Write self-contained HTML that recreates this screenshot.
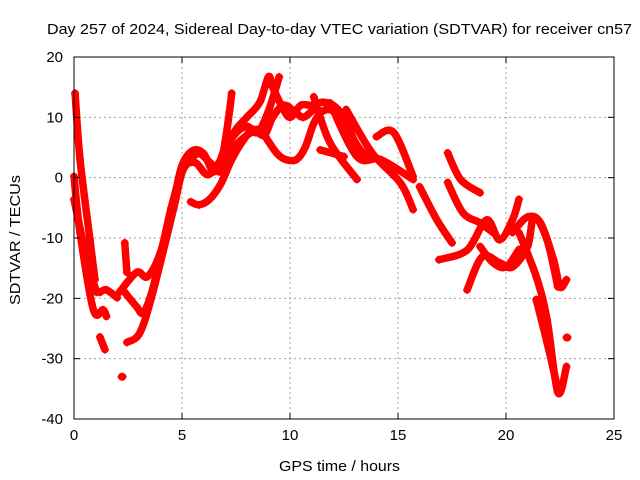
<!DOCTYPE html>
<html><head><meta charset="utf-8"><style>
body{margin:0;background:#fff}
svg{display:block;font-family:"Liberation Sans",sans-serif}
</style></head><body>
<svg width="640" height="480">
<rect width="640" height="480" fill="#fff"/>
<g id="grid"></g>
<g id="marks"></g>
<rect x="74" y="57" width="540" height="362" fill="none" stroke="#000" stroke-width="1"/>
<g id="ticks"></g>
<text x="47" y="34" font-size="15" textLength="585" lengthAdjust="spacingAndGlyphs">Day 257 of 2024, Sidereal Day-to-day VTEC variation (SDTVAR) for receiver cn57</text>
<text x="279" y="471" font-size="15" textLength="121" lengthAdjust="spacingAndGlyphs">GPS time / hours</text>
<text transform="translate(20,305) rotate(-90)" font-size="15" textLength="130" lengthAdjust="spacingAndGlyphs">SDTVAR / TECUs</text>
</svg>
<script>
const xTicks=[0,5,10,15,20,25];
const yTicks=[-40,-30,-20,-10,0,10,20];
const trackA=[[0.05,14],[0.28,3],[0.74,-10.3],[0.97,-16.9]];
const trackB=[[0,0.2],[0.28,-9.1],[0.9,-21.9],[1.35,-21.9],[1.5,-23]];
const trackC=[[0,-3.6],[0.6,-13.6],[1.05,-19]];
const trackD=[[1.2,-19],[1.5,-18.6],[2.0,-19.9]];
const trackE=[[1.2,-26.4],[1.43,-28.5]];
const trackF=[[2.2,-33],[2.25,-33]];
const trackG=[[2.35,-10.8],[2.45,-15.7]];
const trackH=[[2.1,-19],[2.9,-15.7],[3.4,-16.4],[4.0,-12.4],[4.6,-4],[5.0,2],[5.5,4.5],[6.0,4],[6.5,1],[7.0,5],[7.5,8],[8.0,10],[8.6,12.5],[9.0,16.7],[9.2,15],[9.6,12],[10.0,10],[10.5,12],[11.0,12],[11.5,12.5],[12,12],[12.5,10],[13,6],[13.5,3.5]];
const trackI=[[2.35,-19],[2.9,-21.4],[3.2,-22.4],[3.6,-19],[4.0,-13],[4.5,-5],[5.0,1],[5.4,3],[5.8,4],[6.3,2.5],[6.8,1],[7.3,4.5],[8.0,7],[8.6,8],[9.0,6],[9.4,4],[9.8,3],[10.3,3],[10.7,5],[11.1,9],[11.5,11],[12,11],[12.5,8],[13,5],[13.5,4]];
const trackJ=[[2.45,-27.3],[3.05,-25.7],[3.65,-19],[4.6,-5.3],[5.05,1.3],[5.6,2.5],[6.2,0.5],[6.8,3],[7.4,7],[8.0,8.5],[8.5,7.5],[9.0,11],[9.5,16.7]];
const trackK=[[5.4,-4],[5.8,-4.5],[6.3,-3.5],[6.8,-1],[7.3,3],[7.8,6],[8.3,8],[8.8,7],[9.2,10],[9.7,12],[10.2,11],[10.6,10],[11,11]];
const trackL=[[6.8,2],[7.0,6],[7.2,11],[7.3,14]];
const trackM=[[11.1,13.4],[11.85,5.8],[13.1,-0.3]];
const trackN=[[11.85,12.4],[13.1,3.5],[14.2,3],[15.7,-0.3]];
const trackO=[[12.6,11.3],[13.8,4.1],[15.1,-0.8],[15.7,-5.3]];
const trackP=[[14.0,6.8],[14.8,7.5],[15.7,0.2]];
const trackQ=[[11.4,4.6],[12.5,3.5]];
const trackR=[[16.0,-1.5],[16.8,-7],[17.5,-10.8]];
const trackS=[[17.3,4.1],[17.9,-0.3],[18.8,-2.5]];
const trackT=[[17.3,-0.8],[18.0,-5.8],[18.8,-7.5],[19.4,-9.1]];
const trackU=[[16.9,-13.6],[18.2,-12],[19.1,-7],[19.7,-10.3],[20.3,-7],[20.6,-3.6]];
const trackV=[[18.2,-18.6],[18.9,-13.1],[19.7,-14.1],[20.3,-14.8],[21.0,-11.4],[21.3,-6.5],[21.9,-10.3],[22.4,-18.1]];
const trackW=[[20.3,-9.1],[21.0,-6.5],[21.6,-7.5],[22.2,-13.6],[22.5,-18.1],[22.8,-16.9]];
const trackX=[[20.6,-9.1],[21.4,-16.4],[21.9,-23.5],[22.4,-35.6],[22.8,-31.3]];
const trackY=[[21.4,-20.2],[21.9,-27.3],[22.4,-35]];
const trackZ=[[18.8,-11.4],[19.4,-14.1],[20.0,-14.8],[20.6,-11.9]];
const trackAA=[[22.8,-26.5],[22.85,-26.5]];
const tracks=[trackA,trackB,trackC,trackD,trackE,trackF,trackG,trackH,trackI,trackJ,trackK,trackL,trackM,trackN,trackO,trackP,trackQ,trackR,trackS,trackT,trackU,trackV,trackW,trackX,trackY,trackZ,trackAA];

const NS='http://www.w3.org/2000/svg';
const X0=74,X1=614,Y0=419,Y1=57;
function sx(t){return X0+(t-0)/(25-0)*(X1-X0);}
function sy(v){return Y0-(v-(-40))/(20-(-40))*(Y0-Y1);}
function mk(tag,attrs,parent){const e=document.createElementNS(NS,tag);for(const k in attrs)e.setAttribute(k,attrs[k]);parent.appendChild(e);return e;}
function smooth(pts){
  if(pts.length<3) return 'M'+pts.map(p=>p[0]+','+p[1]).join(' L');
  let d='M'+pts[0][0]+','+pts[0][1];
  for(let i=0;i<pts.length-1;i++){
    const p0=pts[i-1]||pts[i],p1=pts[i],p2=pts[i+1],p3=pts[i+2]||p2;
    const c1=[p1[0]+(p2[0]-p0[0])/6,p1[1]+(p2[1]-p0[1])/6];
    const c2=[p2[0]-(p3[0]-p1[0])/6,p2[1]-(p3[1]-p1[1])/6];
    d+=` C${c1[0]},${c1[1]} ${c2[0]},${c2[1]} ${p2[0]},${p2[1]}`;
  }
  return d;
}
const grid=document.getElementById('grid'),ticks=document.getElementById('ticks'),marks=document.getElementById('marks');
xTicks.forEach(t=>{
  const x=sx(t);
  if(t>0&&t<25){const g=mk('line',{x1:x,x2:x,y1:Y1,y2:Y0,stroke:'#a0a0a0','stroke-dasharray':'2,3'},grid);
  
  }
  mk('line',{x1:x,x2:x,y1:Y0,y2:Y0-6,stroke:'#000'},ticks);
  mk('line',{x1:x,x2:x,y1:Y1,y2:Y1+6,stroke:'#000'},ticks);
  const l=mk('text',{x:x,y:Y0+21,'text-anchor':'middle','font-size':15},ticks);
  l.textContent=t;
  
  
});
yTicks.forEach(v=>{
  const y=sy(v);
  if(v>-40&&v<20){const g=mk('line',{x1:X0,x2:X1,y1:y,y2:y,stroke:'#a0a0a0','stroke-dasharray':'2,3'},grid);
  
  }
  mk('line',{x1:X0,x2:X0+6,y1:y,y2:y,stroke:'#000'},ticks);
  mk('line',{x1:X1,x2:X1-6,y1:y,y2:y,stroke:'#000'},ticks);
  const l=mk('text',{x:X0-11,y:y+5,'text-anchor':'end','font-size':15},ticks);
  l.textContent=v;
  
  
});
tracks.forEach(tr=>{
  const pts=tr.map(p=>[sx(p[0]),sy(p[1])]);
  const pl=mk('path',{d:smooth(pts),fill:'none',stroke:'#ff0000','stroke-width':7.5,'stroke-linejoin':'round','stroke-linecap':'round'},marks);
  
  
  tr.forEach(p=>{
    const x=sx(p[0]),y=sy(p[1]);
    const m=mk('path',{d:`M${x-4},${y}H${x+4}M${x},${y-4}V${y+4}`,stroke:'#ff0000','stroke-width':1.5},marks);
    
    
  });
});
</script>
</body></html>
